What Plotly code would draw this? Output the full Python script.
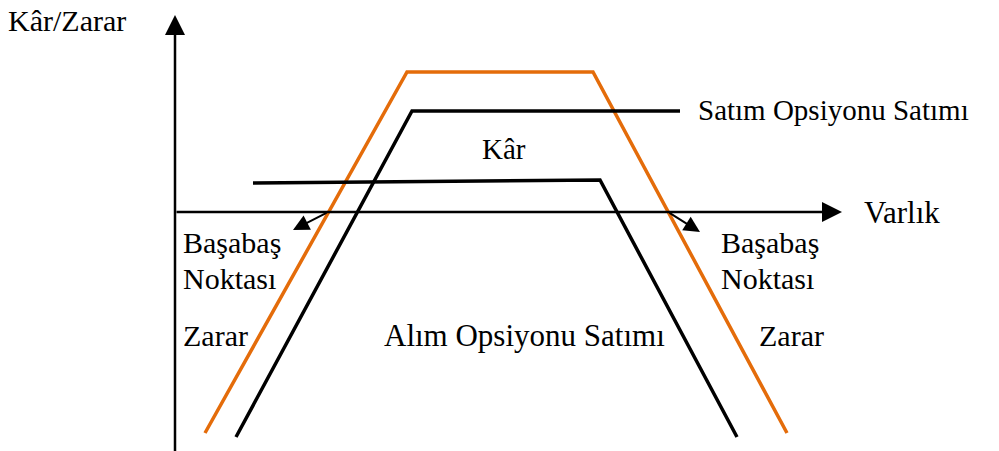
import plotly.graph_objects as go

# Schematic payoff diagram (units: arbitrary, origin at axis crossing)
combined_x = [30, 232, 418, 612]        # orange: combined position
combined_y = [-221, 140, 140, -221]
put_sale_x = [61, 237, 505]             # black: Satım Opsiyonu Satımı
put_sale_y = [-225, 101, 101]
call_sale_x = [78, 425, 562]            # black: Alım Opsiyonu Satımı
call_sale_y = [29, 32, -225]

ORANGE = "#E46C0A"
FONT = "Liberation Serif, Times New Roman, serif"
FS = 29

fig = go.Figure()
fig.add_trace(go.Scatter(x=combined_x, y=combined_y, mode="lines",
                         line=dict(color=ORANGE, width=3.5), hoverinfo="skip"))
fig.add_trace(go.Scatter(x=put_sale_x, y=put_sale_y, mode="lines",
                         line=dict(color="black", width=3.5), hoverinfo="skip"))
fig.add_trace(go.Scatter(x=call_sale_x, y=call_sale_y, mode="lines",
                         line=dict(color="black", width=3.5), hoverinfo="skip"))

anns = []
def arrow(x0, y0, x1, y1, w, s):
    anns.append(dict(x=x1, y=y1, ax=x0, ay=y0, xref="x", yref="y", axref="x", ayref="y",
                     text="", showarrow=True, arrowhead=2, arrowwidth=w, arrowsize=s,
                     arrowcolor="black", standoff=0, startstandoff=0))

arrow(0, -247, 0, 197, 2.5, 1.6)     # vertical axis
arrow(0, 0, 667, 0, 2.5, 1.6)        # horizontal axis
arrow(153, 0, 118, -18, 2, 1.6)      # left break-even pointer
arrow(493, 0, 525, -20, 2, 1.6)      # right break-even pointer

def label(txt, x, y, xa="left", size=FS, xshift=0):
    anns.append(dict(x=x, y=y, xref="x", yref="y", text=txt, showarrow=False,
                     xanchor=xa, yanchor="middle", xshift=xshift,
                     font=dict(family=FONT, size=size, color="black")))

label("Kâr/Zarar", -166, 192, size=30, xshift=-3)
label("Satım Opsiyonu Satımı", 521, 102)
label("Kâr", 305, 63)
label("Alım Opsiyonu Satımı", 349, -123, xa="center", size=31)
label("Varlık", 687, 0, size=31)
label("Başabaş", 6, -30, size=30)
label("Noktası", 6, -66, size=30)
label("Zarar", 6, -123, size=30)
label("Başabaş", 544, -30, size=30)
label("Noktası", 544, -66, size=30)
label("Zarar", 582, -123, size=30)

# page body has an 8px margin, so the ranges are offset by 8 units
fig.update_layout(
    width=999, height=451,
    margin=dict(l=0, r=0, t=0, b=0),
    paper_bgcolor="white", plot_bgcolor="white",
    showlegend=False,
    xaxis=dict(range=[-167, 832], visible=False, fixedrange=True),
    yaxis=dict(range=[-247, 204], visible=False, fixedrange=True),
    annotations=anns,
)
fig.write_html("out.html")
